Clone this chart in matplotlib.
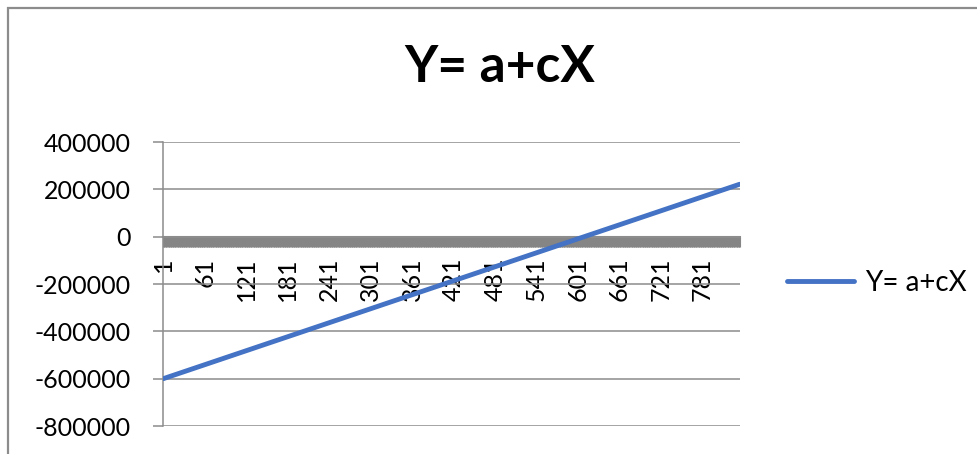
import numpy as np
import matplotlib.pyplot as plt
from matplotlib.patches import Rectangle
from matplotlib.ticker import FixedLocator

plt.rcParams['font.family'] = ['Lato', 'DejaVu Sans']

# ---- data: Y = a + cX over the X categories ----
a = -600000.0       # Y at X = 1
c = 985.0           # slope per category
n_pontos = 835
X = np.arange(1, n_pontos + 1)
Y = a + c * (X - 1)

rotulos_x = np.arange(1, n_pontos + 1, 60)          # 1, 61, 121, ...
ticks_y = np.arange(-800000, 400001, 200000)

cinza = '#8c8c8c'
azul = '#4472C4'

fig = plt.figure(figsize=(9.78, 4.54), dpi=100)
W, H = 978, 454

# chart frame
fig.patches.append(Rectangle((8 / W, -0.2), 1.2, 1 - 8 / H + 0.2,
                             transform=fig.transFigure, fill=False,
                             edgecolor=cinza, linewidth=1.6))

ax = fig.add_axes([163 / W, 1 - 426 / H, 577 / W, 284 / H])

ax.plot(X, Y, color=azul, linewidth=3.5, solid_capstyle='round',
        label='Y= a+cX', zorder=5)

ax.set_xlim(0.5, n_pontos + 0.5)
ax.set_ylim(-800000, 400000)

# y axis
ax.set_yticks(ticks_y)
ax.set_yticklabels([f'{v:.0f}' for v in ticks_y])
ax.yaxis.grid(True, color=cinza, linewidth=1.1)
ax.set_axisbelow(True)
ax.tick_params(axis='y', direction='out', length=7, width=1.1, color=cinza,
               labelsize=18, pad=16)

# x axis crosses at zero, one tick mark per category
ax.spines['bottom'].set_position(('data', 0))
ax.spines['bottom'].set_color(cinza)
ax.spines['bottom'].set_linewidth(1.5)
ax.spines['left'].set_color(cinza)
ax.spines['left'].set_linewidth(1.1)
ax.spines['top'].set_visible(False)
ax.spines['right'].set_visible(False)

ax.xaxis.set_major_locator(FixedLocator(rotulos_x))
ax.set_xticklabels([str(v) for v in rotulos_x], rotation=90, va='top', ha='center')
ax.xaxis.set_minor_locator(FixedLocator(np.arange(0.5, n_pontos + 1, 1)))
ax.tick_params(axis='x', which='major', length=0, labelsize=18, pad=15)
ax.tick_params(axis='x', which='minor', direction='out', length=7, width=0.8,
               color='#858585')

fig.text(500 / W, 1 - 67 / H, 'Y= a+cX', ha='center', va='center',
         fontsize=37, fontweight='bold')

fig.legend(loc='center left', bbox_to_anchor=(787 / W, 1 - 283 / H),
           frameon=False, fontsize=20, handlelength=2.4, handletextpad=0.4,
           borderpad=0, borderaxespad=0)

fig.savefig('out.png', dpi=100)
